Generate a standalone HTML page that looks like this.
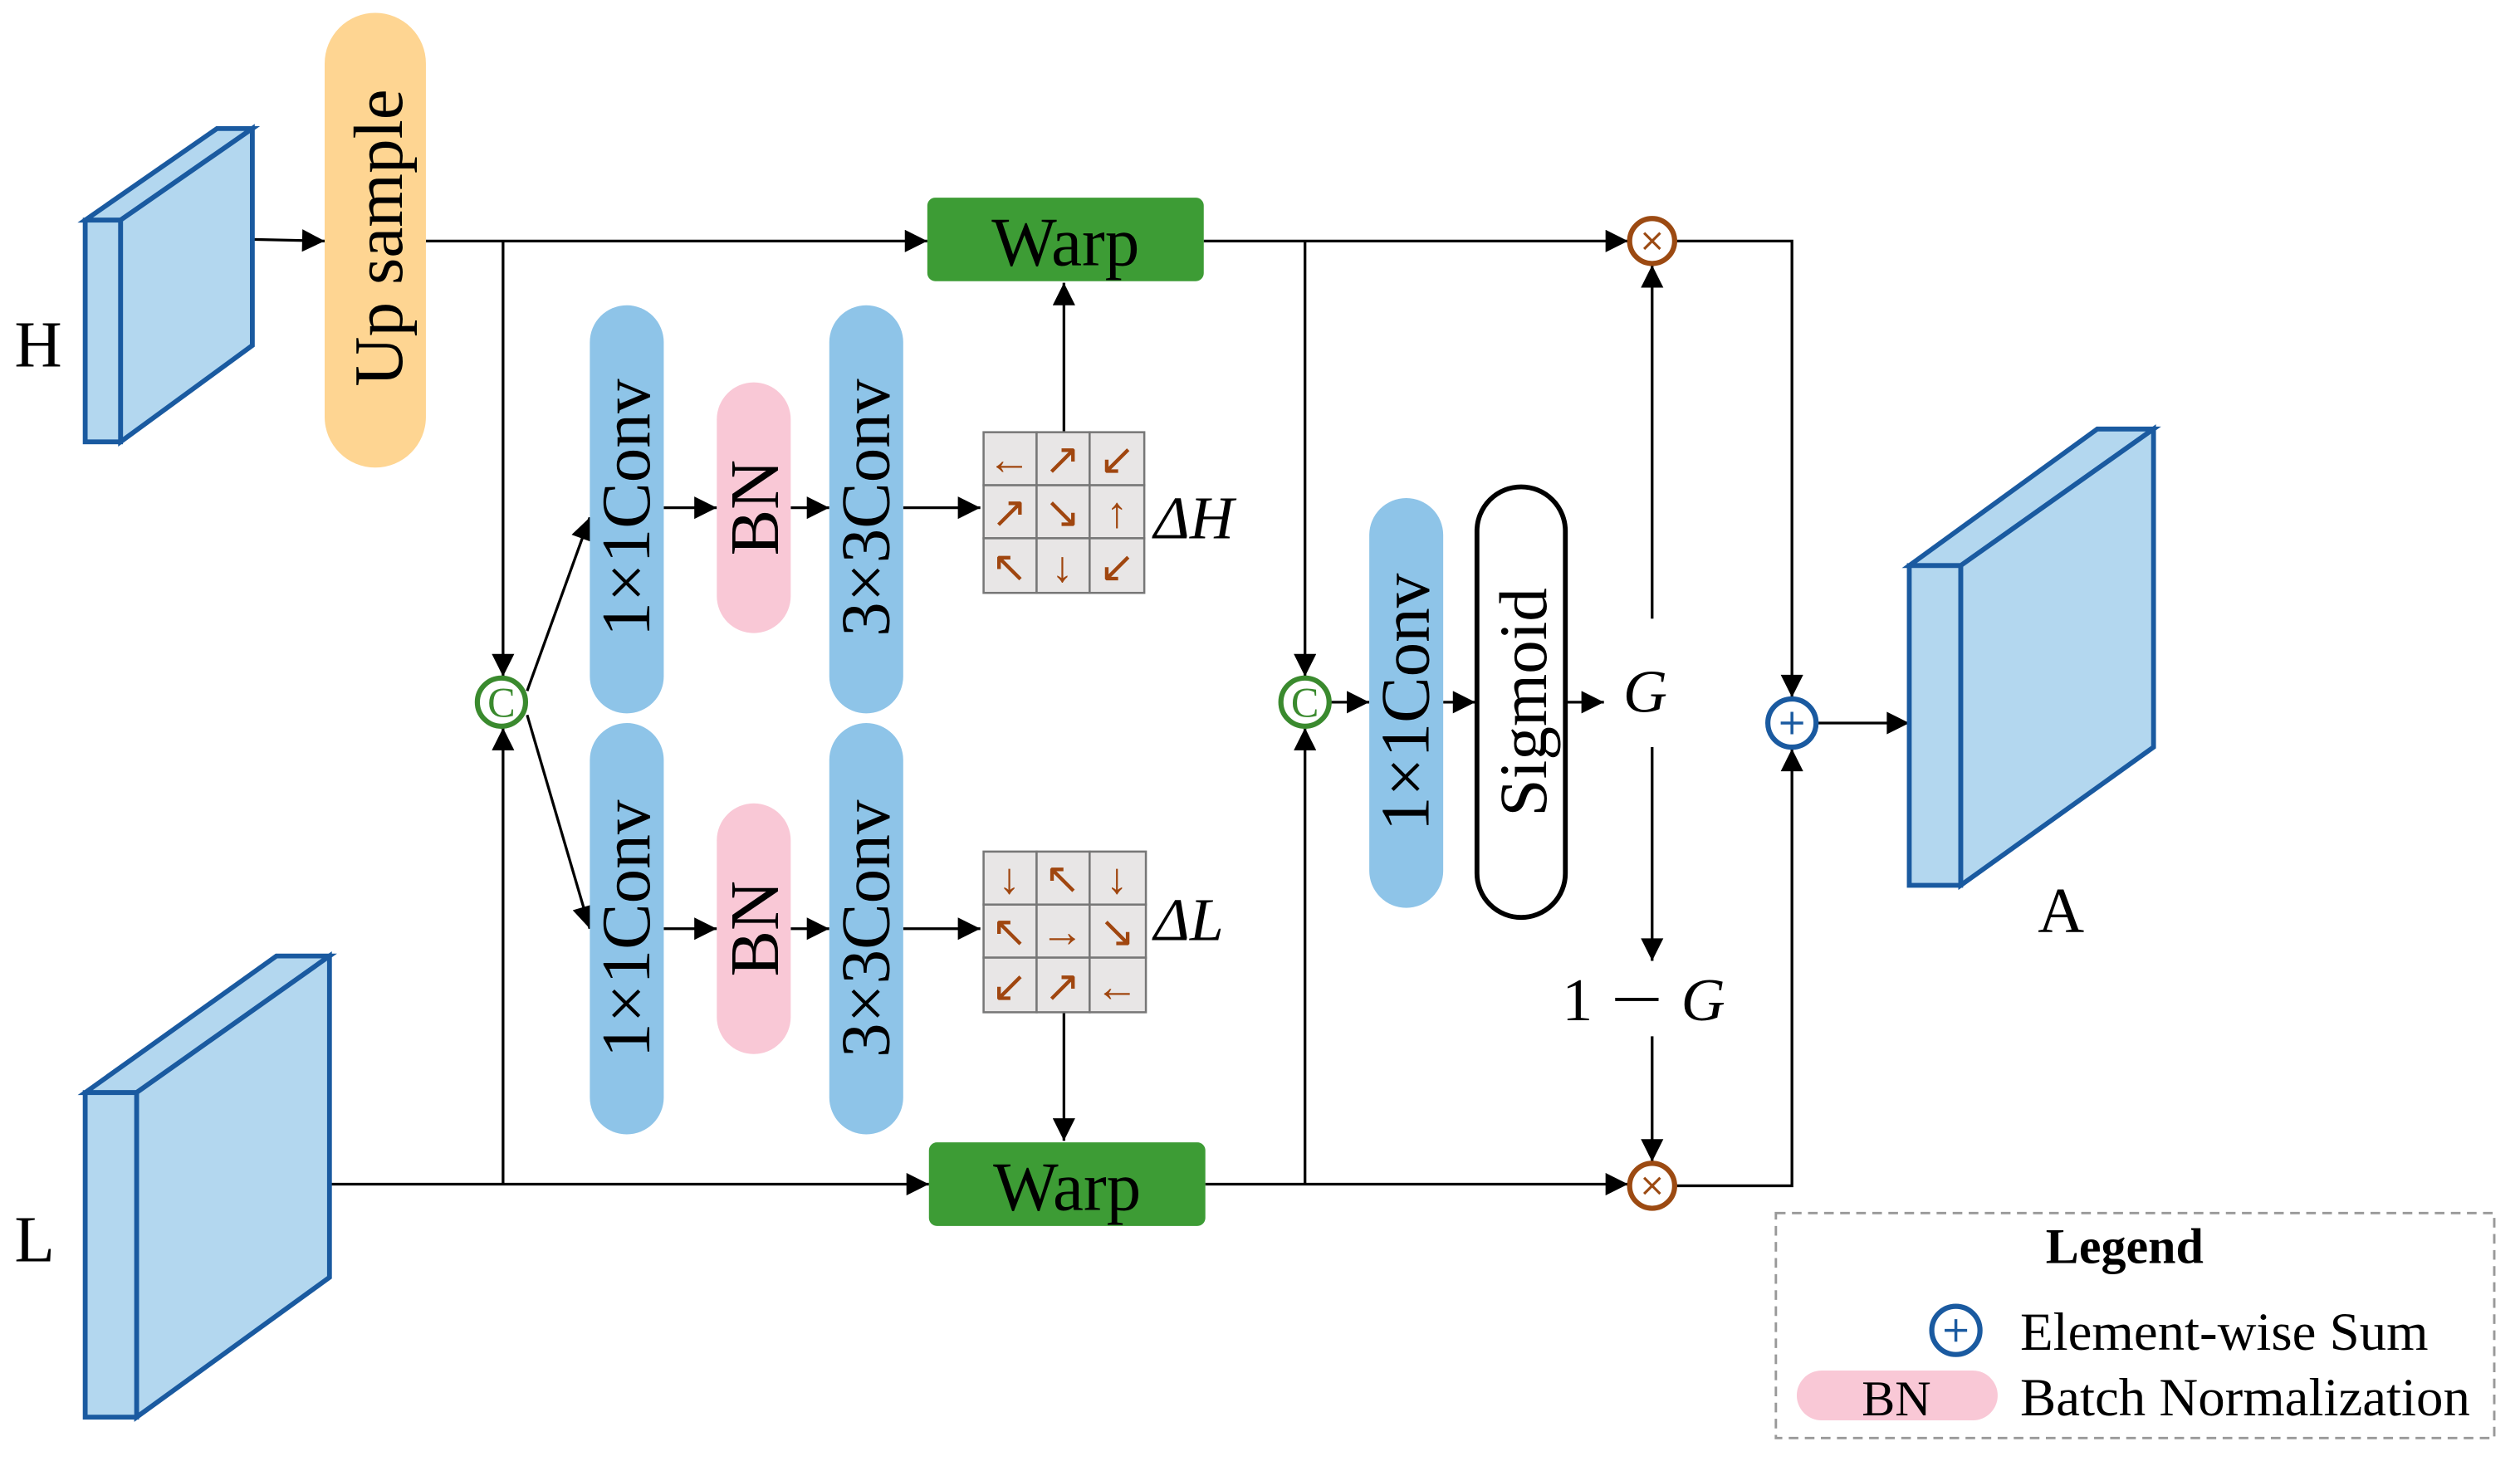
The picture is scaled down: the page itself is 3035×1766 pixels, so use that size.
<!DOCTYPE html>
<html><head><meta charset="utf-8"><style>
html,body{margin:0;padding:0;background:#fff;}
svg{display:block;}
text{font-family:"Liberation Serif",serif;fill:#000;}
</style></head><body>
<svg width="3035" height="1766" viewBox="0 0 1568 912.4" xmlns="http://www.w3.org/2000/svg">
<defs>
<marker id="ar" viewBox="0 0 10 10" refX="10" refY="5" markerWidth="16" markerHeight="14" orient="auto" markerUnits="userSpaceOnUse"><path d="M0,0 L10,5 L0,10 z" fill="#000"/></marker>
</defs>
<g stroke="#000" stroke-width="1.7" fill="none" marker-end="url(#ar)">
<line x1="157" y1="149" x2="202" y2="150"/>
<line x1="265" y1="150" x2="577" y2="150"/>
<line x1="313" y1="150" x2="313" y2="421"/>
<line x1="205" y1="737" x2="578" y2="737"/>
<line x1="313" y1="737" x2="313" y2="453"/>
<line x1="328" y1="430" x2="367" y2="322"/>
<line x1="328" y1="445" x2="367" y2="578"/>
<line x1="413" y1="316" x2="446" y2="316"/>
<line x1="492" y1="316" x2="516" y2="316"/>
<line x1="562" y1="316" x2="610" y2="316"/>
<line x1="413" y1="578" x2="446" y2="578"/>
<line x1="492" y1="578" x2="516" y2="578"/>
<line x1="562" y1="578" x2="610" y2="578"/>
<line x1="662" y1="269" x2="662" y2="176"/>
<line x1="662" y1="630" x2="662" y2="710"/>
<line x1="749" y1="150" x2="1013" y2="150"/>
<line x1="750" y1="737" x2="1013" y2="737"/>
<line x1="812" y1="150" x2="812" y2="421"/>
<line x1="812" y1="737" x2="812" y2="453"/>
<line x1="828" y1="437" x2="852" y2="437"/>
<line x1="898" y1="437" x2="918" y2="437"/>
<line x1="975" y1="437" x2="998" y2="437"/>
<line x1="1028" y1="385" x2="1028" y2="165"/>
<line x1="1028" y1="465" x2="1028" y2="598"/>
<line x1="1028" y1="645" x2="1028" y2="723"/>
<polyline points="1042,150 1115,150 1115,434"/>
<polyline points="1042,738 1115,738 1115,466"/>
<line x1="1130" y1="450" x2="1188" y2="450"/>
</g>
<g stroke="#1a5aa0" stroke-width="3" fill="#b3d7ef" stroke-linejoin="miter">
<polygon points="53,137 75,137 157,80 135,80"/>
<polygon points="75,137 157,80 157,215 75,275"/>
<rect x="53" y="137" width="22" height="138"/>
<polygon points="53,680 85,680 205,595 172,595"/>
<polygon points="85,680 205,595 205,795 85,882"/>
<rect x="53" y="680" width="32" height="202"/>
<polygon points="1188,352 1220,352 1340,267 1305,267"/>
<polygon points="1220,352 1340,267 1340,465 1220,551"/>
<rect x="1188" y="352" width="32" height="199"/>
</g>
<text x="9" y="228" font-size="41">H</text>
<text x="9" y="785" font-size="41">L</text>
<text x="1268" y="580" font-size="40">A</text>
<rect x="202" y="8" width="63" height="283" rx="31.5" fill="#fed592"/>
<text transform="translate(250,148) rotate(-90)" text-anchor="middle" font-size="43">Up sample</text>
<g fill="#8ec4e8">
<rect x="367" y="190" width="46" height="254" rx="23"/>
<rect x="516" y="190" width="46" height="254" rx="23"/>
<rect x="367" y="450" width="46" height="256" rx="23"/>
<rect x="516" y="450" width="46" height="256" rx="23"/>
<rect x="852" y="310" width="46" height="255" rx="23"/>
</g>
<g fill="#f9c8d6">
<rect x="446" y="238" width="46" height="156" rx="23"/>
<rect x="446" y="500" width="46" height="156" rx="23"/>
<rect x="1118" y="853" width="125" height="31" rx="15.5"/>
</g>
<g font-size="43" text-anchor="middle">
<text transform="translate(404,316) rotate(-90)">1×1Conv</text>
<text transform="translate(553,316) rotate(-90)">3×3Conv</text>
<text transform="translate(404,578) rotate(-90)">1×1Conv</text>
<text transform="translate(553,578) rotate(-90)">3×3Conv</text>
<text transform="translate(889,437) rotate(-90)">1×1Conv</text>
<text transform="translate(484,316) rotate(-90)">BN</text>
<text transform="translate(484,578) rotate(-90)">BN</text>
</g>
<rect x="919" y="303" width="55" height="268" rx="27.5" fill="#fff" stroke="#000" stroke-width="3"/>
<text transform="translate(962,437) rotate(-90)" text-anchor="middle" font-size="42">Sigmoid</text>
<rect x="577" y="123" width="172" height="52" rx="5" fill="#3d9c35"/>
<rect x="578" y="711" width="172" height="52" rx="5" fill="#3d9c35"/>
<text x="663" y="165" text-anchor="middle" font-size="43">Warp</text>
<text x="664" y="753" text-anchor="middle" font-size="43">Warp</text>
<g fill="#e8e6e6" stroke="#777" stroke-width="1.3">
<rect x="612" y="269" width="33" height="33"/><rect x="645" y="269" width="33" height="33"/><rect x="678" y="269" width="34" height="33"/>
<rect x="612" y="302" width="33" height="33"/><rect x="645" y="302" width="33" height="33"/><rect x="678" y="302" width="34" height="33"/>
<rect x="612" y="335" width="33" height="34"/><rect x="645" y="335" width="33" height="34"/><rect x="678" y="335" width="34" height="34"/>
<rect x="612" y="530" width="33" height="33"/><rect x="645" y="530" width="33" height="33"/><rect x="678" y="530" width="35" height="33"/>
<rect x="612" y="563" width="33" height="33"/><rect x="645" y="563" width="33" height="33"/><rect x="678" y="563" width="35" height="33"/>
<rect x="612" y="596" width="33" height="34"/><rect x="645" y="596" width="33" height="34"/><rect x="678" y="596" width="35" height="34"/>
</g>
<g font-size="27" text-anchor="middle" style="font-family:'DejaVu Sans',sans-serif">
<text x="628" y="295" style="fill:#a0460f">←</text><text x="661" y="295" style="fill:#a0460f">↗</text><text x="695" y="295" style="fill:#a0460f">↙</text>
<text x="628" y="328" style="fill:#a0460f">↗</text><text x="661" y="328" style="fill:#a0460f">↘</text><text x="695" y="328" style="fill:#a0460f">↑</text>
<text x="628" y="362" style="fill:#a0460f">↖</text><text x="661" y="362" style="fill:#a0460f">↓</text><text x="695" y="362" style="fill:#a0460f">↙</text>
<text x="628" y="556" style="fill:#a0460f">↓</text><text x="661" y="556" style="fill:#a0460f">↖</text><text x="695" y="556" style="fill:#a0460f">↓</text>
<text x="628" y="589" style="fill:#a0460f">↖</text><text x="661" y="589" style="fill:#a0460f">→</text><text x="695" y="589" style="fill:#a0460f">↘</text>
<text x="628" y="623" style="fill:#a0460f">↙</text><text x="661" y="623" style="fill:#a0460f">↗</text><text x="695" y="623" style="fill:#a0460f">←</text>
</g>
<text x="718" y="335" font-size="38" font-style="italic">ΔH</text>
<text x="718" y="585" font-size="38" font-style="italic">ΔL</text>
<text x="1010" y="443" font-size="38" font-style="italic">G</text>
<text x="972" y="635" font-size="38">1</text>
<line x1="1005" y1="622" x2="1032" y2="622" stroke="#000" stroke-width="2"/>
<text x="1046" y="635" font-size="38" font-style="italic">G</text>
<g fill="#fff" stroke-width="3.2">
<circle cx="312" cy="437" r="15" stroke="#3a8a2e"/>
<circle cx="812" cy="437" r="15" stroke="#3a8a2e"/>
<circle cx="1028" cy="150" r="14" stroke="#9c4a12"/>
<circle cx="1028" cy="738" r="14" stroke="#9c4a12"/>
<circle cx="1115" cy="450" r="15" stroke="#1a5aa0"/>
<circle cx="1217" cy="828" r="15" stroke="#1a5aa0"/>
</g>
<text x="312" y="446" text-anchor="middle" font-size="26" style="fill:#3a8a2e">C</text>
<text x="812" y="446" text-anchor="middle" font-size="26" style="fill:#3a8a2e">C</text>
<g stroke="#9c4a12" stroke-width="1.6"><path d="M1023,145 L1033,155 M1033,145 L1023,155"/><path d="M1023,733 L1033,743 M1033,733 L1023,743"/></g>
<g stroke="#1a5aa0" stroke-width="1.8"><path d="M1108,450 H1122 M1115,443 V457"/><path d="M1210,828 H1224 M1217,821 V835"/></g>
<rect x="1105" y="755" width="447" height="140" fill="none" stroke="#999" stroke-width="1.5" stroke-dasharray="6,4"/>
<text x="1322" y="786" text-anchor="middle" font-size="31" font-weight="bold">Legend</text>
<text x="1257" y="840" font-size="33.5">Element-wise Sum</text>
<text x="1180" y="881" text-anchor="middle" font-size="31">BN</text>
<text x="1257" y="881" font-size="33.5">Batch Normalization</text>
</svg>
</body></html>
